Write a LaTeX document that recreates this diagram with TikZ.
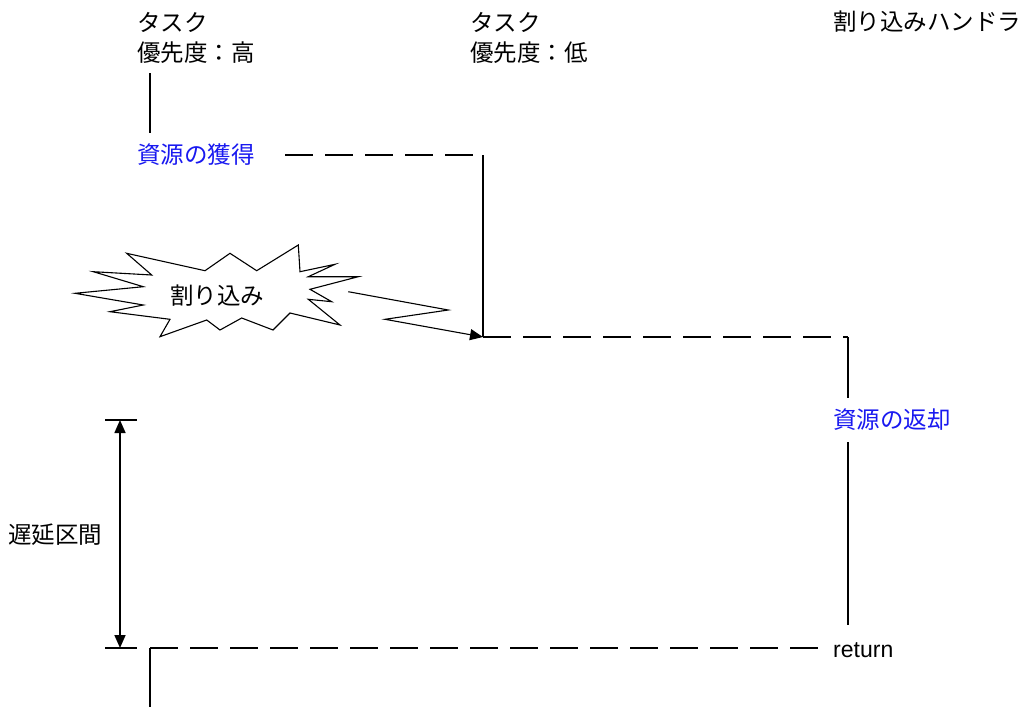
\documentclass[tikz,border=0pt]{standalone}
\usepackage{fontspec}
\setmainfont{Noto Sans CJK JP}
\newfontfamily\latinfont{Liberation Sans}
\usetikzlibrary{arrows.meta}
\definecolor{lblblue}{RGB}{25,25,240}
\tikzset{
  txt/.style={inner sep=0pt, anchor=west, font=\fontsize{23.5}{26}\selectfont},
  bluetxt/.style={txt, text=lblblue},
  solidline/.style={line width=1.6pt},
  dashline/.style={line width=1.6pt, dash pattern=on 28pt off 12pt},
  tip/.style={-{Triangle[length=13pt,width=11pt]}},
  burst/.style={line width=1.1pt}
}
\begin{document}
\begin{tikzpicture}[x=1pt,y=-1pt]
\useasboundingbox (0,0) rectangle (1027,707);
% headers
\node[txt] (t1a) at (137,22) {タスク};
\node[txt] (t1b) at (137,53) {優先度：高};
\node[txt] (t2a) at (470,22) {タスク};
\node[txt] (t2b) at (470,53) {優先度：低};
\node[txt] (t3a) at (833,22) {割り込みハンドラ};
% labels
\node[bluetxt] (acq) at (137,155) {資源の獲得};
\node[bluetxt] (rel) at (833,420) {資源の返却};
\node[txt, font=\latinfont\fontsize{23}{26}\selectfont] (ret) at (833,650) {return};
\node[txt] (delay) at (8,535) {遅延区間};
% coordinates
\coordinate (h1) at (150,73);
\coordinate (h2) at (150,133);
\coordinate (a1) at (285,155);
\coordinate (a2) at (483,155);
\coordinate (a3) at (483,337);
\coordinate (b2) at (848,337);
\coordinate (b3) at (848,398);
\coordinate (b4) at (848,442);
\coordinate (b5) at (848,625);
\coordinate (c1) at (150,648);
\coordinate (c2) at (820,648);
\coordinate (c3) at (150,707);
\coordinate (k1) at (105,420);
\coordinate (k2) at (137,420);
\coordinate (k3) at (105,648);
\coordinate (k4) at (137,648);
\coordinate (d1) at (120,420);
\coordinate (d2) at (120,648);
% task high line
\draw[solidline] (h1) -- (h2);
\draw[dashline] (a1) -- (a2);
\draw[solidline] (a2) -- (a3);
\draw[dashline] (a3) -- (b2);
\draw[solidline] (b2) -- (b3);
\draw[solidline] (b4) -- (b5);
\draw[dashline] (c1) -- (c2);
\draw[solidline] (c1) -- (c3);
% delay markers
\draw[solidline] (k1) -- (k2);
\draw[solidline] (k3) -- (k4);
\draw[solidline, {Triangle[length=13pt,width=11pt]}-{Triangle[length=13pt,width=11pt]}] (d1) -- (d2);
% burst
\draw[burst, fill=white] (126.7,253.3) -- (205,270.7) -- (230,253.3) -- (256.7,270.7) -- (298.3,245)
  -- (300,271.7) -- (335,264.3) -- (308.3,276.7) -- (358.3,276.7) -- (310,289.3) -- (331.7,301.7)
  -- (308.3,299.3) -- (340,325) -- (290,313) -- (273,330) -- (241.7,318) -- (220,330)
  -- (206.7,320) -- (160,336.7) -- (170,319.3) -- (110,311.7) -- (143.3,305) -- (75,293.3)
  -- (143.3,286.7) -- (93.3,271.7) -- (151.7,275) -- cycle;
\node[txt, anchor=center] (intr) at (217,296) {割り込み};
% lightning arrow
\coordinate (l1) at (348.3,291.7);
\coordinate (l2) at (448.3,310);
\coordinate (l3) at (385,319.3);
\draw[burst, tip] (l1) -- (l2) -- (l3) -- (a3);
\end{tikzpicture}
\end{document}
